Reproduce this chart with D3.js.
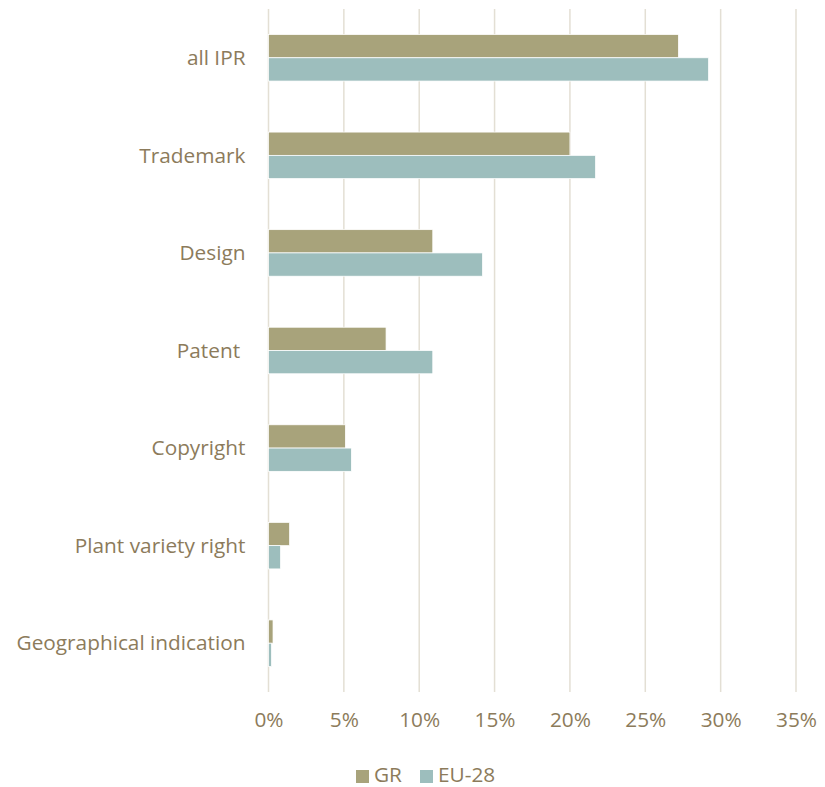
<!DOCTYPE html>
<html><head><meta charset="utf-8">
<script src="https://cdn.jsdelivr.net/npm/d3@7"></script>
<style>body{margin:0;background:#fff}svg{display:block}text{font-family:"Open Sans",sans-serif;fill:#8C7B5B;white-space:pre}</style>
</head><body><svg id="c" width="825" height="787"></svg>
<script>
const categories = ["all IPR","Trademark","Design","Patent ","Copyright","Plant variety right","Geographical indication"];
const seriesNames = ["GR","EU-28"];
const grValues = [27.2,20.0,10.9,7.8,5.1,1.4,0.3];
const euValues = [29.2,21.7,14.2,10.9,5.5,0.8,0.2];
const tickValues = [0,5,10,15,20,25,30,35];
const colors = ["#A8A37B","#9DBEBD"];

(function(){
const svg = d3.select("#c");
const mLeft = 268.5, mRight = 796, mTop = 9, mBottom = 692;
const fs = "20.8px";
const x = d3.scaleLinear().domain([0,35]).range([mLeft,mRight]);
const y = d3.scaleBand().domain(categories).range([mTop,mBottom]).paddingInner(0.523).paddingOuter(0.2615);
const y1 = d3.scaleBand().domain(seriesNames).range([0,y.bandwidth()]);

svg.append("g").selectAll("line").data(tickValues).join("line")
  .attr("x1",d=>x(d)).attr("x2",d=>x(d)).attr("y1",mTop).attr("y2",mBottom)
  .attr("stroke","#E3DFD4").attr("stroke-width",1.5);

const data = categories.map((c,i)=>({c, vals:[grValues[i],euValues[i]]}));
const g = svg.append("g");
data.forEach(d=>{
  d.vals.forEach((v,j)=>{
    g.append("rect").attr("x",x(0)).attr("y",y(d.c)+y1(seriesNames[j]))
      .attr("width",x(v)-x(0)).attr("height",y1.bandwidth())
      .attr("fill",colors[j]).attr("stroke","#fff").attr("stroke-width",0.75);
  });
});

const yAxis = d3.axisLeft(y).tickSize(0).tickPadding(23);
const ya = svg.append("g").attr("transform",`translate(${mLeft},0)`).call(yAxis);
ya.select(".domain").remove();
ya.selectAll("text").style("font-size",fs).attr("fill","#8C7B5B").attr("dy","0.35em");

const xAxis = d3.axisBottom(x).tickValues(tickValues).tickFormat(d=>d+"%").tickSize(0).tickPadding(20);
const xa = svg.append("g").attr("transform",`translate(0,${mBottom})`).call(xAxis);
xa.select(".domain").remove();
xa.selectAll("text").style("font-size",fs).attr("fill","#8C7B5B");

const legX = [356,420];
seriesNames.forEach((s,j)=>{
  svg.append("rect").attr("x",legX[j]).attr("y",770).attr("width",13).attr("height",13).attr("fill",colors[j]);
  svg.append("text").attr("x",legX[j]+18).attr("y",782).text(s).style("font-size",fs);
});
})();
</script></body></html>
